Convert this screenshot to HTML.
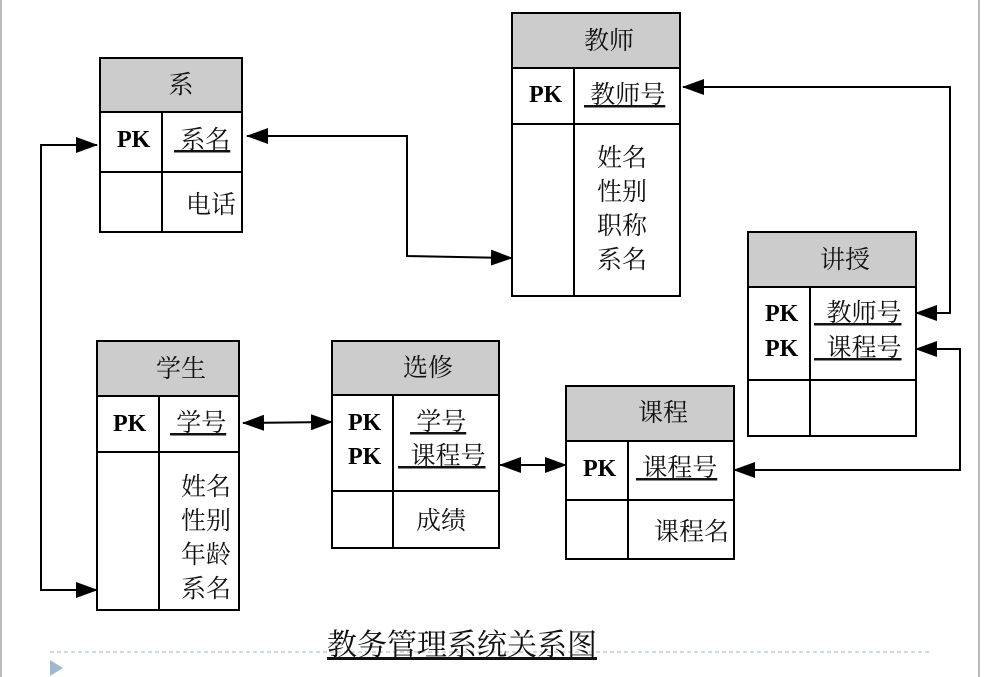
<!DOCTYPE html>
<html><head><meta charset="utf-8"><style>
html,body{margin:0;padding:0;background:#fff;}
svg{display:block;}
.c{font-family:"Liberation Serif","Noto Serif CJK SC",serif;font-size:25px;fill:#111;}
.pk{font-family:"Liberation Serif",serif;font-weight:bold;font-size:24px;fill:#000;}
</style></head><body>
<svg width="985" height="677" viewBox="0 0 985 677" xmlns="http://www.w3.org/2000/svg">
<defs>
<marker id="a" markerWidth="22" markerHeight="16" refX="21" refY="8" orient="auto-start-reverse" markerUnits="userSpaceOnUse">
<path d="M0,0 L22,8 L0,16 z" fill="#000"/></marker>
</defs>
<line x1="1" y1="0" x2="1" y2="677" stroke="#bbb" stroke-width="2"/>
<line x1="979" y1="0" x2="979" y2="677" stroke="#bbb" stroke-width="2"/>
<g stroke="#000" stroke-width="2" fill="none">
<rect x="100" y="58" width="142" height="54" fill="#ccc"/>
<rect x="100" y="58" width="142" height="174"/>
<line x1="100" y1="172" x2="242" y2="172"/><line x1="162" y1="112" x2="162" y2="232"/>
<rect x="512" y="13" width="168" height="55" fill="#ccc"/>
<rect x="512" y="13" width="168" height="283"/>
<line x1="512" y1="124" x2="680" y2="124"/><line x1="574" y1="68" x2="574" y2="296"/>
<rect x="748" y="232" width="168" height="55" fill="#ccc"/>
<rect x="748" y="232" width="168" height="204"/>
<line x1="748" y1="380" x2="916" y2="380"/><line x1="810" y1="287" x2="810" y2="436"/>
<rect x="97" y="341" width="142" height="55" fill="#ccc"/>
<rect x="97" y="341" width="142" height="269"/>
<line x1="97" y1="452" x2="239" y2="452"/><line x1="159" y1="396" x2="159" y2="610"/>
<rect x="332" y="341" width="167" height="54" fill="#ccc"/>
<rect x="332" y="341" width="167" height="207"/>
<line x1="332" y1="491" x2="499" y2="491"/><line x1="393" y1="395" x2="393" y2="548"/>
<rect x="566" y="386" width="168" height="55" fill="#ccc"/>
<rect x="566" y="386" width="168" height="173"/>
<line x1="566" y1="500" x2="734" y2="500"/><line x1="628" y1="441" x2="628" y2="559"/>
<polyline points="512,258 407,256 407,136 247,136" marker-start="url(#a)" marker-end="url(#a)"/>
<polyline points="97,145 41,145 41,590 97,590" marker-start="url(#a)" marker-end="url(#a)"/>
<polyline points="683,87 950,87 950,313 916,313" marker-start="url(#a)" marker-end="url(#a)"/>
<polyline points="916,349 960,349 960,470 734,470" marker-start="url(#a)" marker-end="url(#a)"/>
<line x1="243" y1="423" x2="332" y2="422" marker-start="url(#a)" marker-end="url(#a)"/>
<line x1="500" y1="465" x2="566" y2="465" marker-start="url(#a)" marker-end="url(#a)"/>
<line x1="50" y1="652" x2="930" y2="652" stroke="#9ab4cc" stroke-width="1" stroke-dasharray="4,3"/>
</g>
<path d="M50,660 L63,668 L50,676 z" fill="#a0b8d0"/>
<g class="c" text-anchor="middle">
<text x="181" y="93">系</text>
<text x="609" y="49">教师</text>
<text x="845" y="268">讲授</text>
<text x="181" y="377">学生</text>
<text x="428" y="376">选修</text>
<text x="663" y="421">课程</text>
</g>
<g class="c">
<text x="174" y="148" text-decoration="underline">&#160;系名</text>
<text x="186" y="213">电话</text>
<text x="584" y="103" text-decoration="underline">&#160;教师号</text>
<text x="597" y="166">姓名</text><text x="597" y="200">性别</text><text x="597" y="234">职称</text><text x="597" y="268">系名</text>
<text x="814" y="321" text-decoration="underline">&#160;&#160;教师号</text>
<text x="814" y="356" text-decoration="underline">&#160;&#160;课程号</text>
<text x="170" y="431" text-decoration="underline">&#160;学号</text>
<text x="181" y="495">姓名</text><text x="181" y="529">性别</text><text x="181" y="563">年龄</text><text x="181" y="597">系名</text>
<text x="410" y="430" text-decoration="underline">&#160;学号</text>
<text x="398" y="464" text-decoration="underline">&#160;&#160;课程号</text>
<text x="416" y="529">成绩</text>
<text x="636" y="476" text-decoration="underline">&#160;课程号</text>
<text x="654" y="540">课程名</text>
</g>
<g class="pk">
<text x="117" y="147">PK</text>
<text x="529" y="102">PK</text>
<text x="765" y="321">PK</text><text x="765" y="356">PK</text>
<text x="113" y="431">PK</text>
<text x="348" y="430">PK</text><text x="348" y="464">PK</text>
<text x="583" y="476">PK</text>
</g>
<text x="327" y="655" class="c" style="font-size:30px" text-decoration="underline">教务管理系统关系图</text>
</svg>
</body></html>
